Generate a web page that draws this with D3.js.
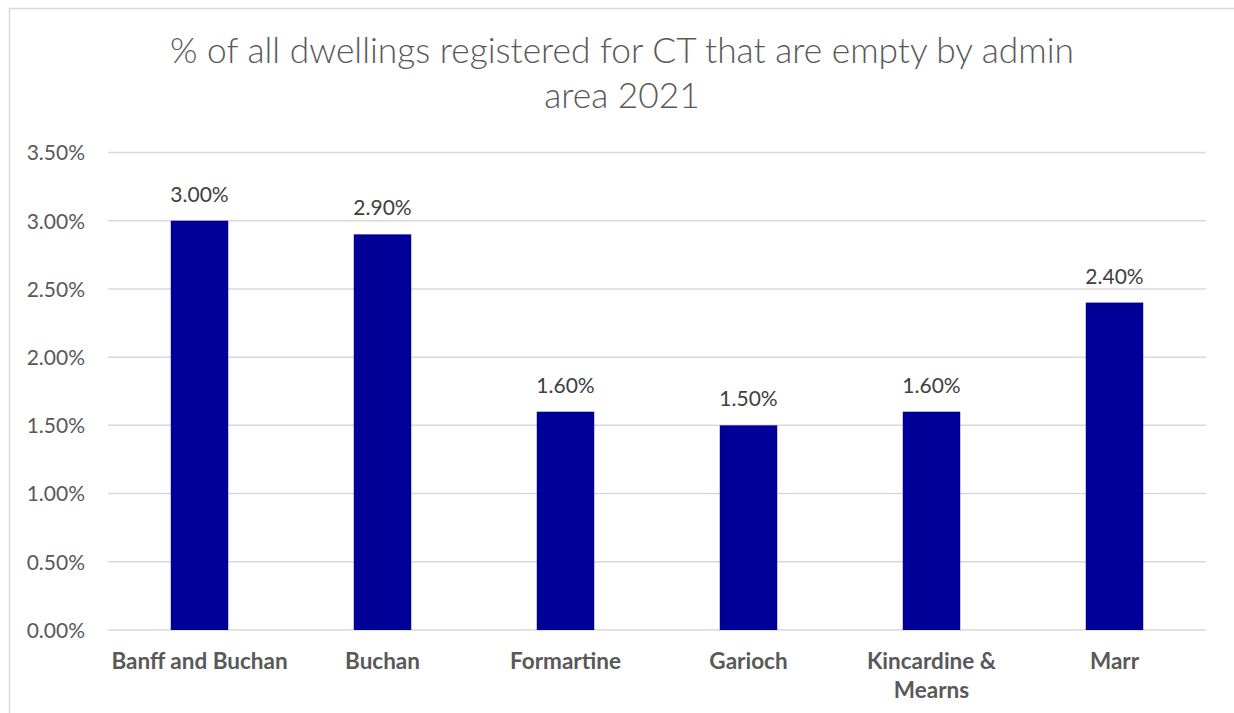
<!DOCTYPE html>
<html><head><meta charset="utf-8">
<script src="https://cdn.jsdelivr.net/npm/d3@7"></script>
<style>
html,body{margin:0;padding:0;background:#fff;}
svg{display:block;}
text{font-family:Lato,"Open Sans","Liberation Sans",sans-serif;}
</style></head>
<body>
<script>
const categories = ["Banff and Buchan", "Buchan", "Formartine", "Garioch", "Kincardine & Mearns", "Marr"];
const categoryLines = [["Banff and Buchan"], ["Buchan"], ["Formartine"], ["Garioch"], ["Kincardine &", "Mearns"], ["Marr"]];
const values = [0.030, 0.029, 0.016, 0.015, 0.016, 0.024];
const yTicks = [0, 0.005, 0.010, 0.015, 0.020, 0.025, 0.030, 0.035];
const titleLines = ["% of all dwellings registered for CT that are empty by admin", "area 2021"];

const W = 1234, H = 713;
const svg = d3.select("body").append("svg").attr("width", W).attr("height", H);

// chart frame
svg.append("rect").attr("x", 9.5).attr("y", 8.5).attr("width", 1240).attr("height", 720)
  .attr("fill", "#fff").attr("stroke", "#d9d9d9").attr("stroke-width", 1.5);

const x = d3.scaleBand().domain(categories).range([108, 1206]).paddingInner(0.686).paddingOuter(0.343);
const y = d3.scaleLinear().domain([0, 0.035]).range([630, 152.5]);

// gridlines
svg.append("g").selectAll("line").data(yTicks).join("line")
  .attr("x1", 108).attr("x2", 1206)
  .attr("y1", d => y(d)).attr("y2", d => y(d))
  .attr("stroke", "#d9d9d9").attr("stroke-width", 1.5);

// y axis labels
const yAxis = d3.axisLeft(y).tickValues(yTicks).tickFormat(d3.format(".2%")).tickSize(0).tickPadding(0);
const ya = svg.append("g").attr("transform", "translate(85,0)").call(yAxis);
ya.select(".domain").remove();
ya.selectAll("text").attr("font-size", 21).attr("fill", "#595959")
  .style("font-family", "Lato, 'Open Sans', sans-serif").attr("dy", "0.35em");

// bars
svg.append("g").selectAll("rect").data(values).join("rect")
  .attr("x", (d, i) => x(categories[i]))
  .attr("width", x.bandwidth())
  .attr("y", d => y(d))
  .attr("height", d => y(0) - y(d))
  .attr("fill", "#000099");

// data labels
svg.append("g").selectAll("text").data(values).join("text")
  .attr("x", (d, i) => x(categories[i]) + x.bandwidth() / 2)
  .attr("y", d => y(d) - 19)
  .attr("text-anchor", "middle")
  .attr("font-size", 21).attr("fill", "#404040")
  .text(d => d3.format(".2%")(d));

// x labels
const xl = svg.append("g").selectAll("text").data(categories).join("text")
  .attr("text-anchor", "middle")
  .attr("font-size", 22.5).attr("font-weight", 700).attr("fill", "#595959")
  .attr("x", d => x(d) + x.bandwidth() / 2)
  .attr("y", 669);
xl.each(function(d, i) {
  d3.select(this).selectAll("tspan").data(categoryLines[i]).join("tspan")
    .attr("x", x(d) + x.bandwidth() / 2)
    .attr("dy", (t, j) => j === 0 ? 0 : 29)
    .text(t => t);
});

// title
svg.append("g").selectAll("text").data(titleLines).join("text")
  .attr("x", 622).attr("y", (d, i) => 63 + i * 45)
  .attr("text-anchor", "middle")
  .attr("font-size", 35.3).attr("font-weight", 300).attr("fill", "#595959")
  .text(d => d);
</script>
</body></html>
